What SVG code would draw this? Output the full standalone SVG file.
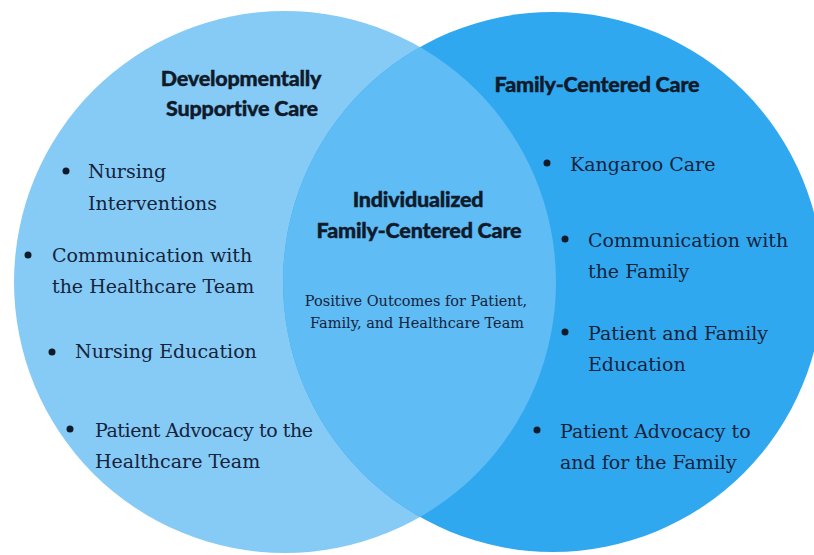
<svg xmlns="http://www.w3.org/2000/svg" width="814" height="555" viewBox="0 0 814 555">
  <style>
    .hd { font-family: Lato, "Open Sans", sans-serif; font-weight: 900; font-size: 21.5px; fill: #0f1a2b; stroke: #0f1a2b; stroke-width: 0.4px; text-anchor: middle; letter-spacing: -0.2px; }
    .it { font-family: "DejaVu Serif", "Liberation Serif", serif; font-size: 19px; fill: #15233b; }
    .sm { font-family: "DejaVu Serif", "Liberation Serif", serif; font-size: 14.5px; fill: #15233b; text-anchor: middle; }
    .dot { fill: #0f1a2b; }
  </style>
  <defs>
    <clipPath id="leftClip">
      <circle cx="285" cy="282" r="271"/>
    </clipPath>
  </defs>
  <rect width="814" height="555" fill="#ffffff"/>

  <!-- left set -->
  <g id="developmental-care">
    <circle cx="285" cy="282" r="271" fill="#86CBF6"/>
  </g>
  <!-- right set -->
  <g id="family-centered-care">
    <circle cx="553" cy="282" r="270" fill="#30A8F0"/>
  </g>
  <!-- intersection -->
  <g id="individualized-care">
    <circle cx="553" cy="282" r="270" fill="#5FBCF4" clip-path="url(#leftClip)"/>
  </g>

  <g id="left-labels">
    <text class="hd" x="241" y="86">Developmentally</text>
    <text class="hd" x="242" y="116">Supportive Care</text>
    <circle class="dot" cx="66" cy="171" r="3.5"/>
    <text class="it" x="88" y="178">Nursing</text>
    <text class="it" x="88" y="210">Interventions</text>
    <circle class="dot" cx="28" cy="255" r="3.5"/>
    <text class="it" x="52" y="262">Communication with</text>
    <text class="it" x="52" y="293">the Healthcare Team</text>
    <circle class="dot" cx="52" cy="352" r="3.5"/>
    <text class="it" x="75" y="358">Nursing Education</text>
    <circle class="dot" cx="70" cy="429" r="3.5"/>
    <text class="it" x="95" y="437" textLength="218">Patient Advocacy to the</text>
    <text class="it" x="95" y="468">Healthcare Team</text>
  </g>

  <g id="center-labels">
    <text class="hd" x="418" y="207">Individualized</text>
    <text class="hd" x="419" y="238">Family-Centered Care</text>
    <text class="sm" x="416" y="306">Positive Outcomes for Patient,</text>
    <text class="sm" x="417" y="328">Family, and Healthcare Team</text>
  </g>

  <g id="right-labels">
    <text class="hd" x="597" y="92">Family-Centered Care</text>
    <circle class="dot" cx="547" cy="163" r="3.5"/>
    <text class="it" x="570" y="171">Kangaroo Care</text>
    <circle class="dot" cx="565" cy="239" r="3.5"/>
    <text class="it" x="588" y="247">Communication with</text>
    <text class="it" x="588" y="278">the Family</text>
    <circle class="dot" cx="565" cy="332" r="3.5"/>
    <text class="it" x="588" y="340">Patient and Family</text>
    <text class="it" x="588" y="371">Education</text>
    <circle class="dot" cx="537" cy="430" r="3.5"/>
    <text class="it" x="560" y="438">Patient Advocacy to</text>
    <text class="it" x="560" y="469">and for the Family</text>
  </g>
</svg>
